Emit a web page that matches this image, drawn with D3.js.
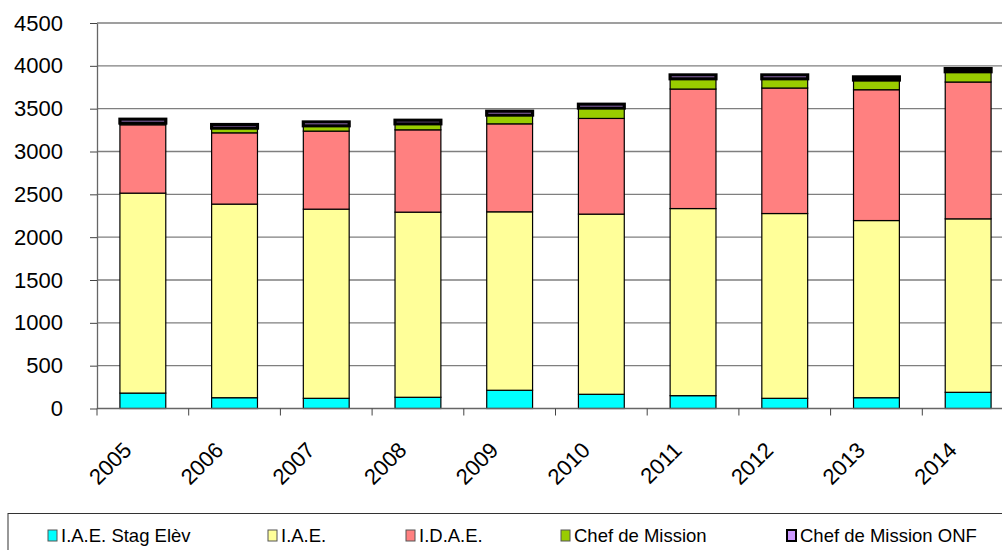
<!DOCTYPE html>
<html><head><meta charset="utf-8">
<script src="https://cdn.jsdelivr.net/npm/d3@7"></script>
<style>body{margin:0;background:#fff;}svg{display:block;font-family:"Liberation Sans",Arial,sans-serif;}</style>
</head><body>
<svg id="c" width="1002" height="550"></svg>
<script>
const years = ["2005","2006","2007","2008","2009","2010","2011","2012","2013","2014"];
const seriesNames = ["I.A.E. Stag Elèv","I.A.E.","I.D.A.E.","Chef de Mission","Chef de Mission ONF"];
const stagEleve = [180,126,119,131,213,166,150,119,126,189];
const iae = [2334,2260,2208,2161,2083,2103,2184,2157,2068,2025];
const idae = [798,832,911,961,1027,1117,1395,1465,1527,1597];
const chefMission = [20,55,62,70,102,121,120,108,113,120];
const chefMissionONF = [45,42,45,42,45,45,45,45,37,37];
const yTicks = [0,500,1000,1500,2000,2500,3000,3500,4000,4500];
const colors = ["#00FFFF","#FFFF99","#FF8080","#99CC00","#CC99FF"];

const svg = d3.select("#c");
const pLeft = 97, pRight = 1014, pTop = 23, pBottom = 408.5;
const x = d3.scaleBand().domain(years).range([pLeft, pRight]).paddingInner(0.5).paddingOuter(0.25);
const y = d3.scaleLinear().domain([0,4500]).range([pBottom, pTop]);

const data = years.map((yr,i)=>({year:yr, s0:stagEleve[i], s1:iae[i], s2:idae[i], s3:chefMission[i], s4:chefMissionONF[i]}));
const stack = d3.stack().keys(["s0","s1","s2","s3","s4"])(data);

// gridlines
svg.append("g").selectAll("line").data(yTicks.filter(d=>d>0)).join("line")
  .attr("x1", pLeft).attr("x2", pRight).attr("y1", d=>y(d)).attr("y2", d=>y(d))
  .attr("stroke","#7f7f7f").attr("stroke-width",1.3);

// bars
const g = svg.append("g");
stack.forEach((layer, k)=>{
  g.append("g").selectAll("rect").data(layer).join("rect")
    .attr("x", d=>x(d.data.year)).attr("width", x.bandwidth())
    .attr("y", d=>y(d[1])).attr("height", d=>y(d[0])-y(d[1]))
    .attr("fill", colors[k]).attr("stroke","#000")
    .attr("stroke-width", k===4 ? 3.2 : 1.2);
});

// y axis
const ya = d3.axisLeft(y).tickValues(yTicks).tickFormat(d3.format("d")).tickSize(7).tickSizeOuter(0).tickPadding(27);
const yg = svg.append("g").attr("transform",`translate(${pLeft},0)`).call(ya);
yg.select(".domain").attr("stroke","#666").attr("stroke-width",1.3);
yg.selectAll(".tick line").attr("stroke","#444");
yg.selectAll("text").attr("font-size",22).attr("fill","#000")
  .attr("font-family","'Liberation Sans',Arial,sans-serif");

// x axis
const xb = d3.scaleLinear().domain([0,years.length]).range([pLeft,pRight]);
const xg = svg.append("g").attr("transform",`translate(0,${pBottom})`);
xg.append("line").attr("x1",pLeft).attr("x2",pRight).attr("stroke","#666").attr("stroke-width",1.3);
xg.selectAll("line.t").data(d3.range(years.length+1)).join("line").attr("class","t")
  .attr("x1",d=>xb(d)).attr("x2",d=>xb(d)).attr("y1",0).attr("y2",7).attr("stroke","#444");
xg.selectAll("text").data(years).join("text")
  .attr("transform", d=>`translate(${x(d)+x.bandwidth()/2-10},${43}) rotate(-45)`)
  .attr("text-anchor","end").attr("font-size",22).attr("fill","#000")
  .text(d=>d);

// legend
const lg = svg.append("g");
lg.append("rect").attr("x",8).attr("y",513.5).attr("width",1010).attr("height",50)
  .attr("fill","#fff").attr("stroke","#333").attr("stroke-width",1);
const legX = [48,268,406,561,787];
seriesNames.forEach((n,i)=>{
  lg.append("rect").attr("x",legX[i]).attr("y",530).attr("width",9).attr("height",11)
    .attr("fill",colors[i]).attr("stroke", i===4 ? "#000" : "#555").attr("stroke-width", i===4 ? 2 : 1);
  lg.append("text").attr("x",legX[i]+13).attr("y",542).attr("font-size",18.5).attr("fill","#000").text(n);
});
</script>
</body></html>
